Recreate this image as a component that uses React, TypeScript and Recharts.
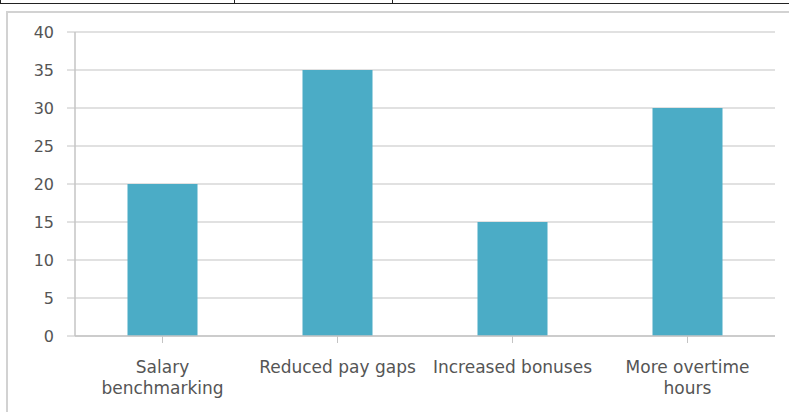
import { BarChart, Bar, XAxis, YAxis, CartesianGrid } from 'recharts'

const categories = ['Salary benchmarking', 'Reduced pay gaps', 'Increased bonuses', 'More overtime hours']
const values = [20, 35, 15, 30]
const yTicks = [0, 5, 10, 15, 20, 25, 30, 35, 40]
// how each category label is broken over lines
const labelLines: Record<string, string[]> = {
  'Salary benchmarking': ['Salary', 'benchmarking'],
  'Reduced pay gaps': ['Reduced pay gaps'],
  'Increased bonuses': ['Increased bonuses'],
  'More overtime hours': ['More overtime', 'hours'],
}

const data = categories.map((name, i) => ({ name, value: values[i] }))

const FONT = '"DejaVu Sans", sans-serif'
const TEXT = '#555555'
const GRID = '#c4c4c4'

function CategoryTick({ x, y, payload }: { x?: number; y?: number; payload?: { value: string } }) {
  const lines = labelLines[payload?.value ?? ''] ?? [payload?.value ?? '']
  return (
    <text x={x} y={y} textAnchor="middle" fill={TEXT} fontSize={17} fontFamily={FONT}>
      {lines.map((l, i) => (
        <tspan key={i} x={x} dy={i === 0 ? 28 : 21}>{l}</tspan>
      ))}
    </text>
  )
}

export default function App() {
  return (
    <div style={{ position: 'fixed', left: 0, top: 0, width: 789, height: 412, background: '#fff', overflow: 'hidden' }}>
      {/* bit of the table above the chart */}
      <div style={{ position: 'absolute', left: 0, top: 0, width: 789, height: 3, borderBottom: '1.5px solid #222', borderLeft: '1.5px solid #222' }} />
      <div style={{ position: 'absolute', left: 234, top: 0, width: 1, height: 4, background: '#222' }} />
      <div style={{ position: 'absolute', left: 392, top: 0, width: 1, height: 4, background: '#222' }} />
      {/* chart frame */}
      <div style={{ position: 'absolute', left: 6, top: 11, width: 820, height: 430, border: '2px solid #d2d2d2' }} />
      <div style={{ position: 'absolute', left: 0, top: 0 }}>
        <BarChart width={789} height={412} data={data} barCategoryGap="30%" margin={{ top: 32, right: 14, bottom: 0, left: 0 }}>
          <CartesianGrid vertical={false} stroke={GRID} strokeWidth={1.2} />
          <XAxis
            dataKey="name"
            height={76}
            interval={0}
            tickSize={7}
            axisLine={{ stroke: GRID, strokeWidth: 1.5 }}
            tickLine={{ stroke: GRID }}
            tick={<CategoryTick />}
          />
          <YAxis
            domain={[0, 40]}
            ticks={yTicks}
            width={75}
            tickSize={8}
            tickMargin={13}
            axisLine={{ stroke: GRID, strokeWidth: 1.5 }}
            tickLine={{ stroke: GRID }}
            tick={{ fill: TEXT, fontSize: 16, fontFamily: FONT }}
          />
          <Bar dataKey="value" fill="#4bacc6" isAnimationActive={false} />
        </BarChart>
      </div>
    </div>
  )
}
